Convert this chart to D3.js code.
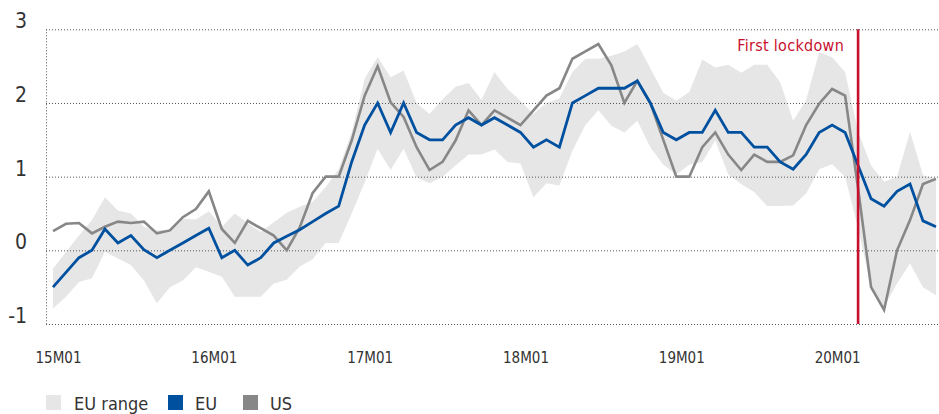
<!DOCTYPE html>
<html>
<head>
<meta charset="utf-8">
<script src="https://cdn.jsdelivr.net/npm/d3@7"></script>
<style>
body {
    margin: 0;
    background: #fff;
}
text {
    font-family: "Liberation Sans Narrow", "DejaVu Sans Condensed", sans-serif;
    fill: #333;
}
.grid line {
    stroke: #555;
    stroke-dasharray: 1 2;
}
</style>
</head>
<body>
<div id="chart"></div>
<script>
// monthly, 15M01 .. 20M09
var euValues = [-0.50, -0.30, -0.10, 0.00, 0.29, 0.10, 0.20, 0.01, -0.10, 0.00,
    0.10, 0.20, 0.30, -0.10, 0.00, -0.20, -0.10, 0.10, 0.19, 0.28,
    0.39, 0.50, 0.60, 1.20, 1.70, 2.00, 1.60, 2.00, 1.60, 1.50,
    1.50, 1.70, 1.80, 1.70, 1.80, 1.70, 1.60, 1.40, 1.50, 1.40,
    2.00, 2.10, 2.20, 2.20, 2.20, 2.30, 2.00, 1.60, 1.50, 1.60,
    1.60, 1.90, 1.60, 1.60, 1.40, 1.40, 1.20, 1.10, 1.30, 1.60,
    1.70, 1.60, 1.15, 0.70, 0.60, 0.80, 0.90, 0.40, 0.32];

var usValues = [0.26, 0.36, 0.37, 0.23, 0.32, 0.39, 0.37, 0.39, 0.23, 0.27,
    0.45, 0.56, 0.80, 0.29, 0.10, 0.40, 0.30, 0.20, 0.00, 0.31,
    0.78, 1.00, 1.00, 1.49, 2.10, 2.50, 2.01, 1.81, 1.40, 1.09,
    1.20, 1.49, 1.90, 1.70, 1.90, 1.80, 1.70, 1.90, 2.10, 2.20,
    2.60, 2.70, 2.80, 2.51, 2.00, 2.30, 2.00, 1.50, 1.00, 1.00,
    1.40, 1.60, 1.30, 1.09, 1.30, 1.20, 1.20, 1.29, 1.70, 1.99,
    2.19, 2.10, 0.84, -0.50, -0.81, 0.00, 0.41, 0.90, 0.97];

var rangeHigh = [-0.25, -0.02, 0.20, 0.41, 0.72, 0.54, 0.50, 0.32, 0.27, 0.28,
    0.43, 0.42, 0.53, 0.32, 0.50, 0.37, 0.25, 0.38, 0.51, 0.59,
    0.66, 0.86, 1.10, 1.60, 2.33, 2.62, 2.35, 2.44, 2.00, 1.85,
    2.05, 2.22, 2.27, 2.04, 2.42, 2.19, 2.03, 1.85, 2.00, 2.06,
    2.42, 2.60, 2.60, 2.64, 2.70, 2.80, 2.47, 2.14, 2.03, 2.15,
    2.59, 2.48, 2.52, 2.41, 2.52, 2.52, 2.28, 1.76, 2.04, 2.69,
    2.62, 2.42, 1.61, 1.15, 0.93, 1.00, 1.61, 1.02, 0.97];

var rangeLow = [-0.79, -0.63, -0.43, -0.38, -0.02, -0.11, -0.20, -0.41, -0.72, -0.50,
    -0.41, -0.23, -0.29, -0.36, -0.63, -0.63, -0.63, -0.45, -0.40, -0.22,
    -0.12, 0.10, 0.10, 0.50, 0.92, 1.38, 1.09, 1.38, 0.99, 0.91,
    1.00, 1.15, 1.30, 1.30, 1.37, 1.20, 1.18, 0.72, 0.91, 0.88,
    1.35, 1.70, 1.90, 1.69, 1.60, 1.76, 1.40, 1.16, 1.03, 1.16,
    1.20, 1.49, 1.03, 0.90, 0.79, 0.60, 0.60, 0.61, 0.77, 1.10,
    1.17, 1.00, 0.30, -0.50, -0.77, -0.45, -0.18, -0.50, -0.61];

var xTickIndex = [0, 12, 24, 36, 48, 60];
var xTickLabels = ["15M01", "16M01", "17M01", "18M01", "19M01", "20M01"];
var yTicks = [-1, 0, 1, 2, 3];
var lockdownIndex = 62;   // 20M03
var lockdownLabel = "First lockdown";

var legendItems = [
    { name: "EU range", color: "#e6e6e6" },
    { name: "EU", color: "#0050a0" },
    { name: "US", color: "#878787" }
];

var width = 939, height = 414;
var plotLeft = 46, plotRight = 939, plotTop = 29.3, plotBottom = 324;

var svg = d3.select("#chart")
    .append("svg")
    .attr("width", width)
    .attr("height", height);

var x = d3.scaleLinear().domain([0, euValues.length - 1]).range([53, 936]);
var y = d3.scaleLinear().domain([-1, 3]).range([plotBottom, plotTop]);

// EU range band
var band = d3.area()
    .x(function(d, i) { return x(i); })
    .y0(function(d, i) { return y(rangeLow[i]); })
    .y1(function(d, i) { return y(rangeHigh[i]); });

svg.append("path")
    .datum(rangeHigh)
    .attr("d", band)
    .attr("fill", "#e6e6e6");

// dotted gridlines
var grid = svg.append("g")
    .attr("class", "grid")
    .attr("transform", "translate(" + plotLeft + ",0)")
    .call(d3.axisLeft(y).tickValues(yTicks).tickSize(-(plotRight - plotLeft)).tickFormat(""));
grid.select(".domain").remove();

svg.append("line")
    .attr("x1", plotLeft + 0.5).attr("x2", plotLeft + 0.5)
    .attr("y1", plotTop).attr("y2", plotBottom)
    .attr("stroke", "#555")
    .attr("stroke-dasharray", "1 2");

// y labels sit on top of their gridline
svg.selectAll(".ylab")
    .data(yTicks)
    .enter().append("text")
    .attr("class", "ylab")
    .attr("x", 27)
    .attr("y", function(d) { return y(d) - 1; })
    .attr("text-anchor", "end")
    .style("font-size", "21px")
    .text(function(d) { return d; });

// x axis labels
var xAxis = svg.append("g")
    .attr("transform", "translate(5," + 363 + ")")
    .call(d3.axisBottom(x).tickValues(xTickIndex).tickSize(0)
        .tickFormat(function(d, i) { return xTickLabels[i]; }));
xAxis.select(".domain").remove();
xAxis.selectAll("text")
    .attr("y", 0)
    .attr("dy", 0)
    .style("font-size", "15px")
    .style("font-family", "'Liberation Sans Narrow', 'DejaVu Sans Condensed', sans-serif")
    .attr("fill", "#333");

var line = d3.line()
    .x(function(d, i) { return x(i); })
    .y(function(d) { return y(d); });

svg.append("path")
    .datum(usValues)
    .attr("d", line)
    .attr("fill", "none")
    .attr("stroke", "#878787")
    .attr("stroke-width", 2.6)
    .attr("stroke-linejoin", "miter");

svg.append("path")
    .datum(euValues)
    .attr("d", line)
    .attr("fill", "none")
    .attr("stroke", "#0050a0")
    .attr("stroke-width", 2.8)
    .attr("stroke-linejoin", "miter");

// lockdown marker
svg.append("line")
    .attr("x1", x(lockdownIndex)).attr("x2", x(lockdownIndex))
    .attr("y1", plotTop).attr("y2", plotBottom)
    .attr("stroke", "#c8102e")
    .attr("stroke-width", 2.6);

svg.append("text")
    .attr("x", x(lockdownIndex) - 14)
    .attr("y", 51)
    .attr("text-anchor", "end")
    .style("font-size", "16px")
    .style("letter-spacing", "0.3px")
    .style("fill", "#c8102e")
    .text(lockdownLabel);

// legend
var legendX = [46, 168, 243];
var legend = svg.selectAll(".legend")
    .data(legendItems)
    .enter().append("g")
    .attr("class", "legend")
    .attr("transform", function(d, i) { return "translate(" + legendX[i] + ",395)"; });

legend.append("rect")
    .attr("width", 15)
    .attr("height", 15)
    .attr("fill", function(d) { return d.color; });

legend.append("text")
    .attr("x", function(d, i) { return i == 0 ? 28 : 27; })
    .attr("y", 15)
    .style("font-size", "18px")
    .text(function(d) { return d.name; });
</script>
</body>
</html>
